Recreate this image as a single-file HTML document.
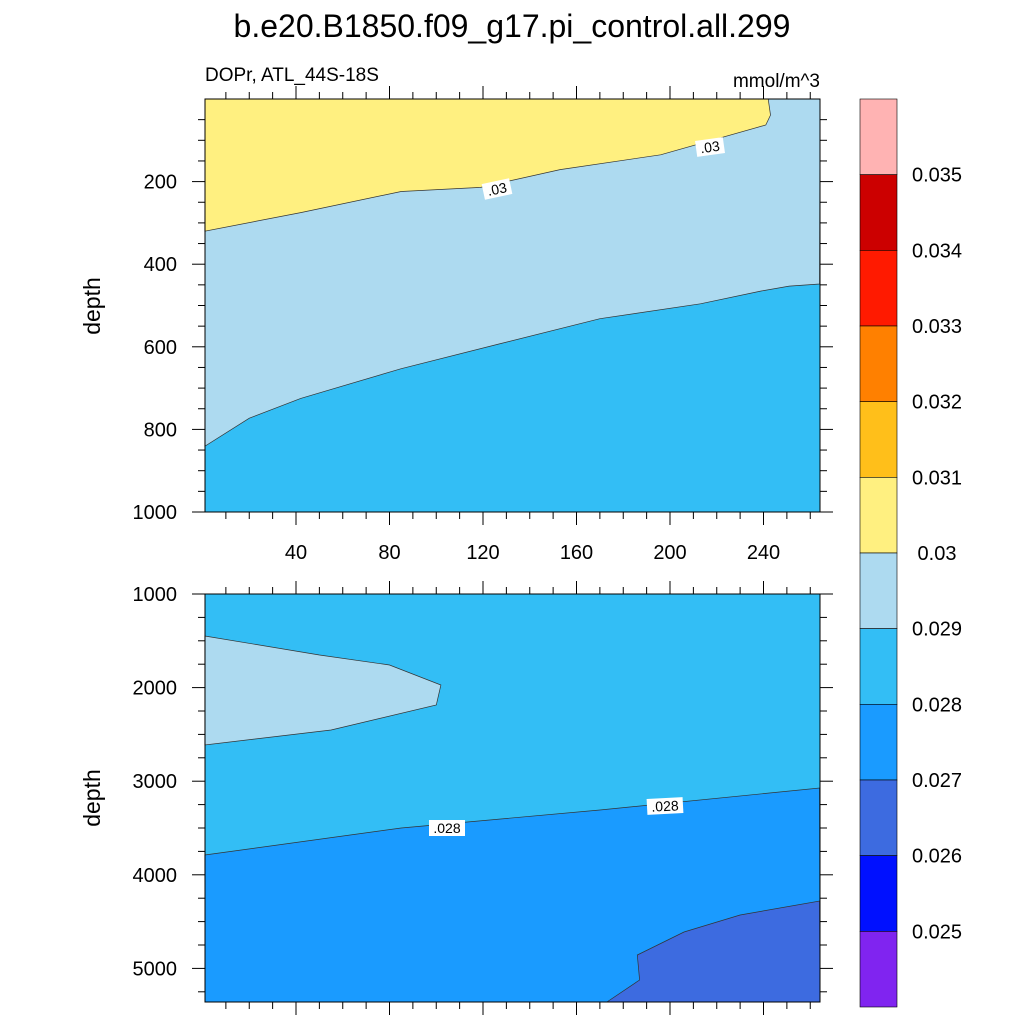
<!DOCTYPE html>
<html><head><meta charset="utf-8"><style>
body{margin:0;background:#fff}
svg{display:block;font-family:"Liberation Sans",sans-serif}
</style></head><body>
<svg id="c" width="1024" height="1024" viewBox="0 0 1024 1024"></svg>
<script>
// data arrays
const c30x=[1,42,85,119,153,196,241,243,242];
const c30d=[320,275,224,214,171,135,63,39,0];
const c29x=[1,20,42,85,127,170,213,239,251,264];
const c29d=[841,773,725,653,593,532,496,465,453,448];
const lightX=[1,50,80,102,100,55,1];
const lightD=[1449,1652,1759,1972,2186,2453,2613];
const c28x=[1,85,170,264];
const c28d=[3788,3500,3308,3073];
const c27x=[173,187,186,206,230,264];
const c27d=[5359,5124,4857,4611,4429,4280];
const xTicks=[40,80,120,160,200,240];
const yTopTicks=[200,400,600,800,1000];
const yBotTicks=[1000,2000,3000,4000,5000];
const cbColors=['#FFB3B3','#CC0000','#FF1A00','#FF8000','#FFBF1A','#FFF080','#ADDAF0','#33BEF5','#1A9BFF','#3D6BE0','#0010FF','#8024F0'];
const cbLabels=['0.035','0.034','0.033','0.032','0.031','0.03','0.029','0.028','0.027','0.026','0.025'];

const L=205,R=820,T1=99,B1=512,T2=594,B2=1002;
const X=v=>202.5+v*2.3375;
const Y1=d=>99+d*0.413;
const Y2=d=>594+(d-1000)*0.0936;
const NS='http://www.w3.org/2000/svg';
const svg=document.getElementById('c');
function el(t,a,p){const e=document.createElementNS(NS,t);for(const k in a)e.setAttribute(k,a[k]);(p||svg).appendChild(e);return e;}
function pts(xs,ds,Y){return xs.map((x,i)=>X(x).toFixed(1)+','+Y(ds[i]).toFixed(1));}

// top panel
let e=el('rect',{x:L,y:T1,width:R-L,height:B1-T1,fill:'#33BEF5'});


e=el('polygon',{points:[L+','+T1,R+','+T1,...pts(c29x,c29d,Y1).reverse()].join(' '),fill:'#ADDAF0',stroke:'#333','stroke-width':0.7});


e=el('polygon',{points:[L+','+T1,...pts(c30x,c30d,Y1)].join(' '),fill:'#FFF080',stroke:'#333','stroke-width':0.7});


el('rect',{x:L,y:T1,width:R-L,height:B1-T1,fill:'none',stroke:'#000','stroke-width':1});

// bottom panel
e=el('rect',{x:L,y:T2,width:R-L,height:B2-T2,fill:'#33BEF5'});


e=el('polygon',{points:pts(lightX,lightD,Y2).join(' '),fill:'#ADDAF0',stroke:'#333','stroke-width':0.7});


e=el('polygon',{points:[...pts(c28x,c28d,Y2),R+','+B2,L+','+B2].join(' '),fill:'#1A9BFF',stroke:'#333','stroke-width':0.7});


e=el('polygon',{points:[...pts(c27x,c27d,Y2),R+','+B2].join(' '),fill:'#3D6BE0',stroke:'#333','stroke-width':0.7});


el('rect',{x:L,y:T2,width:R-L,height:B2-T2,fill:'none',stroke:'#000','stroke-width':1});

// contour labels
function clab(x,y,txt,rot){const g=el('g',{transform:`translate(${x},${y}) rotate(${rot})`});


const w=txt.length*8+4;el('rect',{x:-w/2,y:-8,width:w,height:16,fill:'#fff'},g);
const t=el('text',{x:0,y:5,'text-anchor':'middle','font-size':14},g);t.textContent=txt;}
clab(497,189,'.03',-12);clab(710,147,'.03',-8);clab(447,828,'.028',0);clab(665,806,'.028',-3);

// ticks
function line(x1,y1,x2,y2,w){el('line',{x1,y1,x2,y2,stroke:'#000','stroke-width':w||1});}
for(let v=10;v<=264;v+=10){const maj=v%40==0;const px=X(v);const l=maj?13:7;
 line(px,T1,px,T1-l);line(px,B1,px,B1+l);line(px,T2,px,T2-l);line(px,B2,px,B2+l);}
xTicks.forEach(v=>{const t=el('text',{x:X(v),y:559,'text-anchor':'middle','font-size':20});t.textContent=v;
 
 });
for(let d=50;d<=1000;d+=50){const maj=d%200==0;const py=Y1(d);const l=maj?13:7;line(L,py,L-l,py);line(R,py,R+l,py);}
yTopTicks.forEach(v=>{const t=el('text',{x:177,y:Y1(v)+7,'text-anchor':'end','font-size':20});t.textContent=v;
 
 });
for(let d=1000;d<=5360;d+=250){const maj=d%1000==0;const py=Y2(d);const l=maj?13:7;line(L,py,L-l,py);line(R,py,R+l,py);}
yBotTicks.forEach(v=>{const t=el('text',{x:177,y:Y2(v)+7,'text-anchor':'end','font-size':20});t.textContent=v;
 
 });

// colorbar
const cbT=99,cbB=1007,cbH=(cbB-cbT)/cbColors.length;
cbColors.forEach((c,i)=>{const r=el('rect',{x:860,y:cbT+i*cbH,width:37,height:cbH,fill:c,stroke:'#000','stroke-width':0.6});
 
 });
cbLabels.forEach((s,i)=>{const t=el('text',{x:937,y:cbT+(i+1)*cbH+7,'text-anchor':'middle','font-size':20});t.textContent=s;
 
 });

// titles
function txt(x,y,s,sz,anch,name,rot){const t=el('text',{x,y,'font-size':sz,'text-anchor':anch});if(rot)t.setAttribute('transform',`rotate(-90 ${x} ${y})`);t.textContent=s;
 
 }
txt(512,37,'b.e20.B1850.f09_g17.pi_control.all.299',32,'middle','chart-title');
txt(205,81,'DOPr, ATL_44S-18S',19,'start','left-subtitle');
txt(820,87,'mmol/m^3',19,'end','units-label');
txt(100,306,'depth',23,'middle','y-axis-title-top',true);
txt(100,798,'depth',23,'middle','y-axis-title-bottom',true);
</script>
</body></html>
